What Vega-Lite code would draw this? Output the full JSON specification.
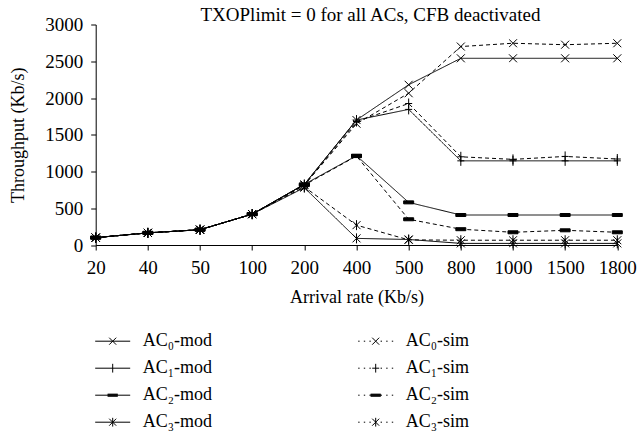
{
  "$schema": "https://vega.github.io/schema/vega-lite/v6.json",
  "autosize": {"type": "none"},
  "width": 521.6,
  "height": 220.5,
  "padding": {"left": 95.7, "top": 24.5, "right": 19.7, "bottom": 190},
  "background": "white",
  "title": {"text": "TXOPlimit = 0 for all ACs, CFB deactivated", "font": "Liberation Serif", "fontSize": 19, "fontWeight": "normal", "color": "black", "anchor": "middle", "offset": -9, "dx": 14},
  "config": {"view": {"stroke": null}},
  "datasets": {
    "d": [
      {"rate": "20", "series": "AC₀-mod", "throughput": 100}, {"rate": "40", "series": "AC₀-mod", "throughput": 165}, {"rate": "50", "series": "AC₀-mod", "throughput": 208}, {"rate": "100", "series": "AC₀-mod", "throughput": 420}, {"rate": "200", "series": "AC₀-mod", "throughput": 825}, {"rate": "400", "series": "AC₀-mod", "throughput": 1700}, {"rate": "500", "series": "AC₀-mod", "throughput": 2180}, {"rate": "800", "series": "AC₀-mod", "throughput": 2540}, {"rate": "1000", "series": "AC₀-mod", "throughput": 2540}, {"rate": "1500", "series": "AC₀-mod", "throughput": 2540}, {"rate": "1800", "series": "AC₀-mod", "throughput": 2540},
      {"rate": "20", "series": "AC₀-sim", "throughput": 100}, {"rate": "40", "series": "AC₀-sim", "throughput": 165}, {"rate": "50", "series": "AC₀-sim", "throughput": 208}, {"rate": "100", "series": "AC₀-sim", "throughput": 420}, {"rate": "200", "series": "AC₀-sim", "throughput": 815}, {"rate": "400", "series": "AC₀-sim", "throughput": 1650}, {"rate": "500", "series": "AC₀-sim", "throughput": 2065}, {"rate": "800", "series": "AC₀-sim", "throughput": 2700}, {"rate": "1000", "series": "AC₀-sim", "throughput": 2745}, {"rate": "1500", "series": "AC₀-sim", "throughput": 2725}, {"rate": "1800", "series": "AC₀-sim", "throughput": 2745},
      {"rate": "20", "series": "AC₁-mod", "throughput": 100}, {"rate": "40", "series": "AC₁-mod", "throughput": 165}, {"rate": "50", "series": "AC₁-mod", "throughput": 208}, {"rate": "100", "series": "AC₁-mod", "throughput": 420}, {"rate": "200", "series": "AC₁-mod", "throughput": 825}, {"rate": "400", "series": "AC₁-mod", "throughput": 1700}, {"rate": "500", "series": "AC₁-mod", "throughput": 1845}, {"rate": "800", "series": "AC₁-mod", "throughput": 1145}, {"rate": "1000", "series": "AC₁-mod", "throughput": 1145}, {"rate": "1500", "series": "AC₁-mod", "throughput": 1145}, {"rate": "1800", "series": "AC₁-mod", "throughput": 1145},
      {"rate": "20", "series": "AC₁-sim", "throughput": 100}, {"rate": "40", "series": "AC₁-sim", "throughput": 165}, {"rate": "50", "series": "AC₁-sim", "throughput": 208}, {"rate": "100", "series": "AC₁-sim", "throughput": 420}, {"rate": "200", "series": "AC₁-sim", "throughput": 815}, {"rate": "400", "series": "AC₁-sim", "throughput": 1680}, {"rate": "500", "series": "AC₁-sim", "throughput": 1925}, {"rate": "800", "series": "AC₁-sim", "throughput": 1200}, {"rate": "1000", "series": "AC₁-sim", "throughput": 1165}, {"rate": "1500", "series": "AC₁-sim", "throughput": 1205}, {"rate": "1800", "series": "AC₁-sim", "throughput": 1170},
      {"rate": "20", "series": "AC₂-mod", "throughput": 100}, {"rate": "40", "series": "AC₂-mod", "throughput": 165}, {"rate": "50", "series": "AC₂-mod", "throughput": 208}, {"rate": "100", "series": "AC₂-mod", "throughput": 420}, {"rate": "200", "series": "AC₂-mod", "throughput": 825}, {"rate": "400", "series": "AC₂-mod", "throughput": 1215}, {"rate": "500", "series": "AC₂-mod", "throughput": 580}, {"rate": "800", "series": "AC₂-mod", "throughput": 408}, {"rate": "1000", "series": "AC₂-mod", "throughput": 408}, {"rate": "1500", "series": "AC₂-mod", "throughput": 408}, {"rate": "1800", "series": "AC₂-mod", "throughput": 408},
      {"rate": "20", "series": "AC₂-sim", "throughput": 100}, {"rate": "40", "series": "AC₂-sim", "throughput": 165}, {"rate": "50", "series": "AC₂-sim", "throughput": 208}, {"rate": "100", "series": "AC₂-sim", "throughput": 420}, {"rate": "200", "series": "AC₂-sim", "throughput": 815}, {"rate": "400", "series": "AC₂-sim", "throughput": 1210}, {"rate": "500", "series": "AC₂-sim", "throughput": 350}, {"rate": "800", "series": "AC₂-sim", "throughput": 215}, {"rate": "1000", "series": "AC₂-sim", "throughput": 173}, {"rate": "1500", "series": "AC₂-sim", "throughput": 200}, {"rate": "1800", "series": "AC₂-sim", "throughput": 173},
      {"rate": "20", "series": "AC₃-mod", "throughput": 100}, {"rate": "40", "series": "AC₃-mod", "throughput": 165}, {"rate": "50", "series": "AC₃-mod", "throughput": 208}, {"rate": "100", "series": "AC₃-mod", "throughput": 420}, {"rate": "200", "series": "AC₃-mod", "throughput": 780}, {"rate": "400", "series": "AC₃-mod", "throughput": 90}, {"rate": "500", "series": "AC₃-mod", "throughput": 75}, {"rate": "800", "series": "AC₃-mod", "throughput": 22}, {"rate": "1000", "series": "AC₃-mod", "throughput": 22}, {"rate": "1500", "series": "AC₃-mod", "throughput": 22}, {"rate": "1800", "series": "AC₃-mod", "throughput": 22},
      {"rate": "20", "series": "AC₃-sim", "throughput": 100}, {"rate": "40", "series": "AC₃-sim", "throughput": 165}, {"rate": "50", "series": "AC₃-sim", "throughput": 208}, {"rate": "100", "series": "AC₃-sim", "throughput": 420}, {"rate": "200", "series": "AC₃-sim", "throughput": 790}, {"rate": "400", "series": "AC₃-sim", "throughput": 270}, {"rate": "500", "series": "AC₃-sim", "throughput": 70}, {"rate": "800", "series": "AC₃-sim", "throughput": 65}, {"rate": "1000", "series": "AC₃-sim", "throughput": 65}, {"rate": "1500", "series": "AC₃-sim", "throughput": 65}, {"rate": "1800", "series": "AC₃-sim", "throughput": 65}
    ]
  },
  "data": {"name": "d"},
  "encoding": {
    "x": {
      "field": "rate", "type": "ordinal", "sort": null,
      "scale": {"type": "point", "padding": 0, "domain": ["20", "40", "50", "100", "200", "400", "500", "800", "1000", "1500", "1800"]},
      "axis": {"title": "Arrival rate (Kb/s)", "labelAngle": 0, "grid": false, "domainColor": "black", "tickColor": "black", "tickSize": 5, "labelPadding": 8, "labelFont": "Liberation Serif", "labelFontSize": 19, "labelColor": "black", "titleFont": "Liberation Serif", "titleFontSize": 18, "titleFontWeight": "normal", "titleColor": "black", "titlePadding": 11}
    },
    "y": {
      "field": "throughput", "type": "quantitative",
      "scale": {"domain": [0, 3000], "nice": false},
      "axis": {"title": "Throughput (Kb/s)", "format": "d", "values": [0, 500, 1000, 1500, 2000, 2500, 3000], "grid": false, "domainColor": "black", "tickColor": "black", "tickSize": 5, "labelPadding": 8, "labelFont": "Liberation Serif", "labelFontSize": 19, "labelColor": "black", "titleFont": "Liberation Serif", "titleFontSize": 18, "titleFontWeight": "normal", "titleColor": "black", "titlePadding": 17}
    }
  },
  "layer": [
    {
      "mark": {"type": "line", "color": "black", "strokeWidth": 1},
      "encoding": {
        "strokeDash": {"field": "series", "type": "nominal", "legend": null,
          "scale": {"domain": ["AC₀-mod", "AC₁-mod", "AC₂-mod", "AC₃-mod", "AC₀-sim", "AC₁-sim", "AC₂-sim", "AC₃-sim"],
                    "range": [[1, 0], [1, 0], [1, 0], [1, 0], [4, 3], [4, 3], [4, 3], [4, 3]]}}
      }
    },
    {
      "mark": {"type": "point", "filled": true, "fill": "black", "stroke": "black", "strokeWidth": 1, "size": 100, "opacity": 1},
      "encoding": {
        "shape": {"field": "series", "type": "nominal", "legend": null,
          "scale": {"domain": ["AC₀-mod", "AC₁-mod", "AC₂-mod", "AC₃-mod", "AC₀-sim", "AC₁-sim", "AC₂-sim", "AC₃-sim"],
                    "range": [
                      "M-0.8,-0.8L0.8,0.8M-0.8,0.8L0.8,-0.8",
                      "M-0.7,0H0.7M0,-1V1",
                      "M-1,-0.3H1V0.3H-1Z",
                      "M0,-1V1M-0.8,-0.8L0.8,0.8M-0.8,0.8L0.8,-0.8",
                      "M-0.8,-0.8L0.8,0.8M-0.8,0.8L0.8,-0.8",
                      "M-0.7,0H0.7M0,-1V1",
                      "M-1,-0.3H1V0.3H-1Z",
                      "M0,-1V1M-0.8,-0.8L0.8,0.8M-0.8,0.8L0.8,-0.8"
                    ]}}
      }
    },
    {
      "mark": {"type": "point", "filled": false, "color": "black", "strokeWidth": 1, "size": 100, "opacity": 0},
      "encoding": {
        "shape": {"field": "series", "type": "nominal",
          "scale": {"domain": ["AC₀-mod", "AC₁-mod", "AC₂-mod", "AC₃-mod", "AC₀-sim", "AC₁-sim", "AC₂-sim", "AC₃-sim"],
                    "range": [
                      "M-1,0H1M-0.2,-0.2L0.2,0.2M-0.2,0.2L0.2,-0.2",
                      "M-1,0H1M0,-0.25V0.25",
                      "M-1,0H1M-0.29,-0.06H0.29M-0.29,0.06H0.29M-0.29,-0.03H0.29M-0.29,0.03H0.29",
                      "M-1,0H1M0,-0.25V0.25M-0.2,-0.2L0.2,0.2M-0.2,0.2L0.2,-0.2",
                      "M-1,0H-0.92M-0.68,0H-0.6M-0.36,0H-0.28M0.28,0H0.36M0.6,0H0.68M0.92,0H1M-0.2,-0.2L0.2,0.2M-0.2,0.2L0.2,-0.2",
                      "M-1,0H-0.92M-0.68,0H-0.6M-0.36,0H-0.28M0.28,0H0.36M0.6,0H0.68M0.92,0H1M-0.2,0H0.2M0,-0.25V0.25",
                      "M-1,0H-0.92M-0.68,0H-0.6M-0.36,0H-0.28M0.28,0H0.36M0.6,0H0.68M0.92,0H1M-0.29,-0.06H0.29M-0.29,0.06H0.29M-0.29,-0.03H0.29M-0.29,0.03H0.29M-0.29,0H0.29",
                      "M-1,0H-0.92M-0.68,0H-0.6M-0.36,0H-0.28M0.28,0H0.36M0.6,0H0.68M0.92,0H1M0,-0.25V0.25M-0.2,-0.2L0.2,0.2M-0.2,0.2L0.2,-0.2"
                    ]},
          "legend": {"title": null, "orient": "none", "legendX": -1, "legendY": 298.7, "columns": 2, "columnPadding": 143, "rowPadding": 0, "symbolSize": 1225, "labelFont": "Liberation Serif", "labelFontSize": 18, "labelColor": "black", "labelOffset": 12, "padding": 0, "labelLimit": 0, "symbolStrokeWidth": 1, "symbolStrokeColor": "black", "symbolOpacity": 1,
            "encode": {"symbols": {"update": {"opacity": {"value": 1}, "strokeOpacity": {"value": 1}}}}}
        }
      }
    }
  ],
  "resolve": {"scale": {"shape": "independent"}}
}
